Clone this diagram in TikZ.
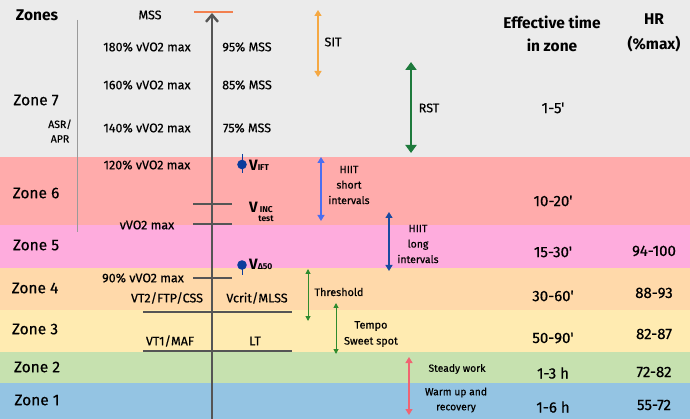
\documentclass[tikz,border=0pt]{standalone}
\usepackage{fontspec}
\setmainfont{Fira Sans}[Ligatures=TeXOff, UprightFeatures={FakeBold=0.5}]
\usetikzlibrary{arrows.meta}
\definecolor{bgrey}{HTML}{EBEBEB}
\definecolor{bz6}{HTML}{FFABAB}
\definecolor{bz5}{HTML}{FEACDD}
\definecolor{bz4}{HTML}{FFD9AA}
\definecolor{bz3}{HTML}{FFEBB1}
\definecolor{bz2}{HTML}{C6E1AF}
\definecolor{bz1}{HTML}{94C4E3}
\definecolor{axisc}{HTML}{555555}
\definecolor{msso}{HTML}{F2804F}
\definecolor{sito}{HTML}{F5A842}
\definecolor{rstg}{HTML}{1E7A3C}
\definecolor{thrg}{HTML}{2E8B2E}
\definecolor{hsb}{HTML}{4A6EF0}
\definecolor{hlb}{HTML}{1A4AA0}
\definecolor{dotb}{HTML}{0B3C9C}
\definecolor{warmr}{HTML}{F06472}
\definecolor{vline}{HTML}{9A9A9A}
\begin{document}
\begin{tikzpicture}[x=1pt,y=-1pt,
  lbl/.style={inner sep=0pt, text=black, font=\fontsize{12.5}{14}\selectfont},
  zonelbl/.style={inner sep=0pt, text=black, font=\fontsize{15.5}{17}\selectfont},
  head/.style={inner sep=0pt, text=black, font=\fontsize{15.5}{17}\selectfont\bfseries},
  val/.style={inner sep=0pt, text=black, font=\fontsize{15}{17}\selectfont},
  small/.style={inner sep=0pt, text=black, font=\fontsize{10.8}{12}\selectfont, align=center},
  tickln/.style={draw=axisc, line width=2.2pt},
  dbl/.style={line width=1.2pt, {Triangle[length=6pt,width=7pt]}-{Triangle[length=6pt,width=7pt]}},
  vdot/.style={fill=dotb}
]
\useasboundingbox (0,0) rectangle (690,419);
% bands
\fill[bgrey] (0,0) rectangle (690,157);
\fill[bz6] (0,157) rectangle (690,225);
\fill[bz5] (0,225) rectangle (690,268);
\fill[bz4] (0,268) rectangle (690,310);
\fill[bz3] (0,310) rectangle (690,352);
\fill[bz2] (0,352) rectangle (690,383);
\fill[bz1] (0,383) rectangle (690,419);

% zone labels
\node[head] (zones) at (37,15) {Zones};
\node[zonelbl] (z7) at (36,100) {Zone 7};
\node[small, font=\fontsize{10.5}{14.5}\selectfont] (asr) at (60,131) {ASR/\\APR};
\node[zonelbl] (z6) at (36,193) {Zone 6};
\node[zonelbl] (z5) at (36,245) {Zone 5};
\node[zonelbl] (z4) at (35,288) {Zone 4};
\node[zonelbl] (z3) at (35,329) {Zone 3};
\node[zonelbl] (z2) at (37,367) {Zone 2};
\node[zonelbl] (z1) at (37,400) {Zone 1};
\coordinate (vlt) at (77,20);
\coordinate (vlb) at (77,232);
\draw[vline, line width=1pt] (vlt) -- (vlb);

% axis
\coordinate (axb) at (212,419);
\coordinate (axt) at (212,13);
\draw[axisc, line width=2.4pt, -{Straight Barb[length=7pt,width=12pt]}] (axb) -- (axt);
\coordinate (mssl) at (194,12);
\coordinate (mssr) at (233,12);
\draw[msso, line width=2.6pt] (mssl) -- (mssr);
\node[lbl] (mss) at (150,15) {MSS};

% left labels
\node[lbl] (l180) at (147,47) {180\% vVO2 max};
\node[lbl] (l160) at (147,85) {160\% vVO2 max};
\node[lbl] (l140) at (147,128) {140\% vVO2 max};
\node[lbl] (l120) at (147,165) {120\% vVO2 max};
\node[lbl] (lvo2) at (147,225) {vVO2 max};
\node[lbl] (l90) at (143,278) {90\% vVO2 max};
\node[lbl] (lvt2) at (167,298) {VT2/FTP/CSS};
\node[lbl] (lvt1) at (170,341) {VT1/MAF};
% right labels
\node[lbl] (r95) at (247,47) {95\% MSS};
\node[lbl] (r85) at (247,85) {85\% MSS};
\node[lbl] (r75) at (247,128) {75\% MSS};
\node[lbl] (rvc) at (257,298) {Vcrit/MLSS};
\node[lbl] (rlt) at (255,341) {LT};

% ticks
\coordinate (t1l) at (193,204); \coordinate (t1r) at (232,204);
\coordinate (t2l) at (193,224); \coordinate (t2r) at (232,224);
\coordinate (t3l) at (193,278); \coordinate (t3r) at (232,278);
\coordinate (t4l) at (143,312); \coordinate (t4r) at (292,312);
\coordinate (t5l) at (143,351); \coordinate (t5r) at (292,351);
\draw[tickln] (t1l) -- (t1r);
\draw[tickln] (t2l) -- (t2r);
\draw[tickln] (t3l) -- (t3r);
\draw[tickln, line width=1.8pt] (t4l) -- (t4r);
\draw[tickln, line width=1.8pt] (t5l) -- (t5r);

% dots
\coordinate (d1t) at (242,154); \coordinate (d1b) at (242,173);
\draw[dotb, line width=0.9pt] (d1t) -- (d1b);
\fill[vdot] (242,164.5) circle (4.8);
\node[inner sep=0pt, anchor=west] (vift) at (249,165) {\fontsize{15}{16}\selectfont\bfseries V\fontsize{8.5}{9}\selectfont IFT};
\node[inner sep=0pt, anchor=west] (vinc) at (249,207) {\fontsize{15}{16}\selectfont\bfseries V\fontsize{8.5}{9}\selectfont\ INC};
\node[inner sep=0pt] (vtest) at (266,219) {\fontsize{8.5}{9}\selectfont\bfseries test};
\coordinate (d2t) at (242,262); \coordinate (d2b) at (242,275);
\draw[dotb, line width=0.9pt] (d2t) -- (d2b);
\fill[vdot] (242,265) circle (4.8);
\node[inner sep=0pt, anchor=west] (vd50) at (249,264) {\fontsize{15}{16}\selectfont\bfseries V\fontsize{8.5}{9}\selectfont Δ50};

% training arrows
\coordinate (sitt) at (318,10); \coordinate (sitb) at (318,77);
\draw[sito, dbl] (sitt) -- (sitb);
\node[lbl] (sit) at (333,42) {SIT};
\coordinate (rstt) at (411,62); \coordinate (rstb) at (411,153);
\draw[rstg, line width=2.2pt, {Triangle[length=8pt,width=11pt]}-{Triangle[length=8pt,width=11pt]}] (rstt) -- (rstb);
\node[lbl] (rst) at (429,108) {RST};
\coordinate (hst) at (321,157); \coordinate (hsb) at (321,221);
\draw[hsb, dbl] (hst) -- (hsb);
\node[small, font=\fontsize{10.5}{15.5}\selectfont] (hiits) at (349,185) {HIIT\\short\\intervals};
\coordinate (hlt) at (389,212); \coordinate (hlbb) at (389,271);
\draw[hlb, dbl] (hlt) -- (hlbb);
\node[small, font=\fontsize{10.5}{15.5}\selectfont] (hiitl) at (418,244) {HIIT\\long\\intervals};
\coordinate (tht) at (308,269); \coordinate (thb) at (308,321);
\draw[thrg, line width=1pt, {Triangle[length=5pt,width=5pt]}-{Triangle[length=5pt,width=5pt]}] (tht) -- (thb);
\node[small] (thr) at (339,292) {Threshold};
\coordinate (tpt) at (336,303); \coordinate (tpb) at (336,354);
\draw[thrg, line width=1pt, {Triangle[length=5pt,width=5pt]}-{Triangle[length=5pt,width=5pt]}] (tpt) -- (tpb);
\node[small, font=\fontsize{10.8}{16}\selectfont] (tempo) at (371,334) {Tempo\\Sweet spot};
\coordinate (swt) at (409,357); \coordinate (swb) at (409,415);
\draw[warmr, dbl] (swt) -- (swb);
\node[small, font=\fontsize{10.3}{11}\selectfont] (steady) at (457,369) {Steady work};
\node[small, font=\fontsize{10.3}{15}\selectfont] (warm) at (456,400) {Warm up and\\recovery};

% headers right
\node[head] (eff1) at (552,22) {Effective time};
\node[head] (eff2) at (552,45) {in zone};
\node[head] (hr1) at (654,19) {HR};
\node[head] (hr2) at (654,44) {(\%max)};

% values
\node[val] (t7) at (553,108) {1-5'};
\node[val] (t6) at (553,201) {10-20'};
\node[val] (t5) at (553,252) {15-30'};
\node[val] (t4) at (553,296) {30-60'};
\node[val] (t3) at (553,338) {50-90'};
\node[val] (t2) at (553,373) {1-3 h};
\node[val] (t1) at (553,407) {1-6 h};
\node[val] (h5) at (654,251) {94-100};
\node[val] (h4) at (654,293) {88-93};
\node[val] (h3) at (654,334) {82-87};
\node[val] (h2) at (654,372) {72-82};
\node[val] (h1) at (654,405) {55-72};
\end{tikzpicture}
\end{document}
